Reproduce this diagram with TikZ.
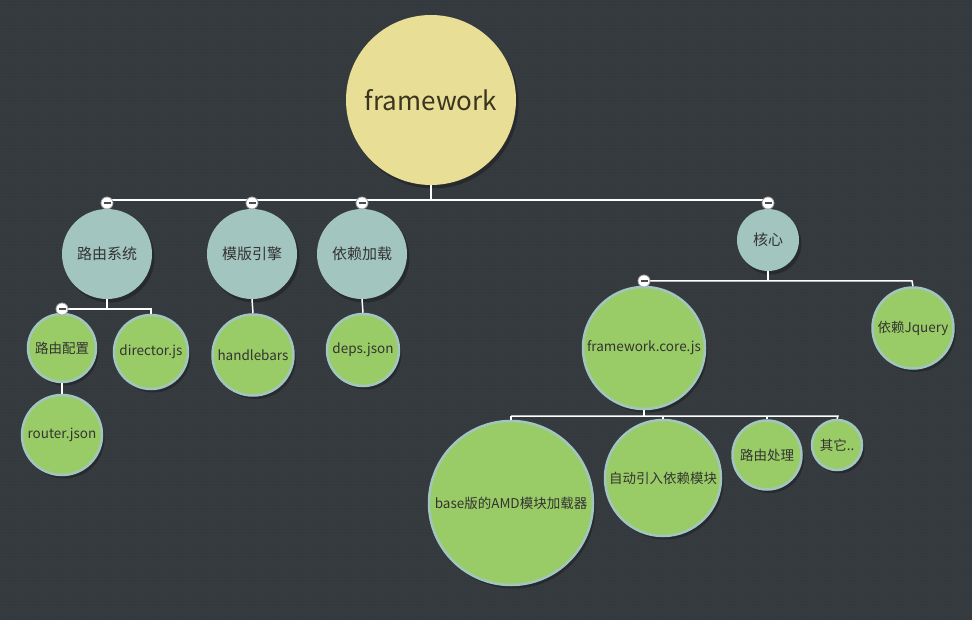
\documentclass[tikz,border=0pt]{standalone}
\usepackage{fontspec}
\setmainfont{Noto Sans CJK SC}
\usetikzlibrary{patterns}
\definecolor{bg}{HTML}{363B40}
\definecolor{bgdot}{HTML}{2D3135}
\definecolor{rootfill}{HTML}{E8DE96}
\definecolor{tealfill}{HTML}{A3C5BF}
\definecolor{greenfill}{HTML}{99CC66}
\definecolor{txt}{HTML}{333333}
\definecolor{roottxt}{HTML}{3B3520}
\definecolor{shade}{HTML}{25282B}
\tikzset{
  bub/.style={circle, inner sep=0pt, text=txt, font=\fontsize{13.5}{15}\selectfont,
    preaction={fill=shade, opacity=0.85, transform canvas={shift={(2.5pt,-3.5pt)}}}},
  rootnode/.style={bub, fill=rootfill, text=roottxt, font=\fontsize{26}{30}\selectfont},
  topic/.style={bub, fill=tealfill, font=\fontsize{15}{17}\selectfont},
  leaf/.style={bub, fill=greenfill, draw=tealfill, line width=2.5pt},
  link/.style={draw=white, line width=2pt},
  thin/.style={draw=white, line width=1.5pt},
  fold/.style={circle, fill=white, draw=gray!70, line width=0.8pt, minimum size=12pt, inner sep=0pt,
    path picture={\draw[line width=2pt, draw=black!70] ([xshift=-3.5pt]path picture bounding box.center) -- ([xshift=3.5pt]path picture bounding box.center);}}
}
\begin{document}
\begin{tikzpicture}[x=1pt,y=-1pt]
\fill[bg] (0,0) rectangle (972,620);
\fill[pattern=dots, pattern color=bgdot] (0,0) rectangle (972,620);
\useasboundingbox (0,0) rectangle (972,620);

% nodes
\node[rootnode, minimum size=170pt] (root) at (431,100) {framework};
\node[topic, minimum size=90pt] (lyxt) at (107,254) {路由系统};
\node[topic, minimum size=90pt] (mbyq) at (252,254) {模版引擎};
\node[topic, minimum size=90pt] (yljz) at (362,254) {依赖加载};
\node[topic, minimum size=62pt] (hx) at (768,240) {核心};

\node[leaf, minimum size=68pt] (lypz) at (62,348) {路由配置};
\node[leaf, minimum size=74pt] (dir) at (151,352) {director.js};
\node[leaf, minimum size=80pt] (router) at (62,435) {router.json};
\node[leaf, minimum size=81pt] (hb) at (253,355) {handlebars};
\node[leaf, minimum size=72pt] (deps) at (363,350) {deps.json};

\node[leaf, minimum size=122pt] (core) at (644,348) {framework.core.js};
\node[leaf, minimum size=81pt] (jq) at (913,328) {依赖Jquery};

\node[leaf, minimum size=164pt] (amd) at (511,503) {base版的AMD模块加载器};
\node[leaf, minimum size=116pt] (auto) at (663,478) {自动引入依赖模块};
\node[leaf, minimum size=69pt] (lycl) at (767,455) {路由处理};
\node[leaf, minimum size=50pt] (qt) at (837,445) {其它..};

% bar coordinates
\coordinate (b0) at (431,200);
\coordinate (b1) at (107,200);
\coordinate (b4) at (768,200);
\coordinate (c0) at (107,309);
\coordinate (c1) at (62,309);
\coordinate (c2) at (151,309);
\coordinate (d0) at (768,281);
\coordinate (d1) at (644,281);
\coordinate (d2) at (912,281);
\coordinate (e0) at (644,416);
\coordinate (e1) at (511,416);
\coordinate (e4) at (838,416);

% connectors
\draw[link] (root.south) -- (b0);
\draw[link] (b1) -- (b4);
\draw[link] (b1) -- (lyxt.north);
\draw[link] (mbyq.north) -- (mbyq.north |- b0);
\draw[link] (yljz.north) -- (yljz.north |- b0);
\draw[link] (b4) -- (hx.north);

\draw[thin] (lyxt.south) -- (c0);
\draw[thin] (c1) -- (c2) -- (dir.north);
\draw[thin] (c1) -- (lypz.north);
\draw[thin] (lypz.south) -- (router.north);
\draw[thin] (mbyq.south) -- (hb.north);
\draw[thin] (yljz.south) -- (deps.north);

\draw[thin] (hx.south) -- (d0);
\draw[thin] (d1) -- (d2) -- (jq.north);
\draw[thin] (d1) -- (core.north);

\draw[thin] (core.south) -- (e0);
\draw[thin] (e1) -- (e4) -- (qt.north);
\draw[thin] (e1) -- (amd.north);
\draw[thin] (auto.north) -- (auto.north |- e0);
\draw[thin] (lycl.north) -- (lycl.north |- e0);

% fold buttons
\node[fold] (f1) at (107,203) {};
\node[fold] (f2) at (252,203) {};
\node[fold] (f3) at (362,203) {};
\node[fold] (f4) at (768,203) {};
\node[fold] (f5) at (62,309) {};
\node[fold] (f6) at (644,281) {};
\end{tikzpicture}
\end{document}
